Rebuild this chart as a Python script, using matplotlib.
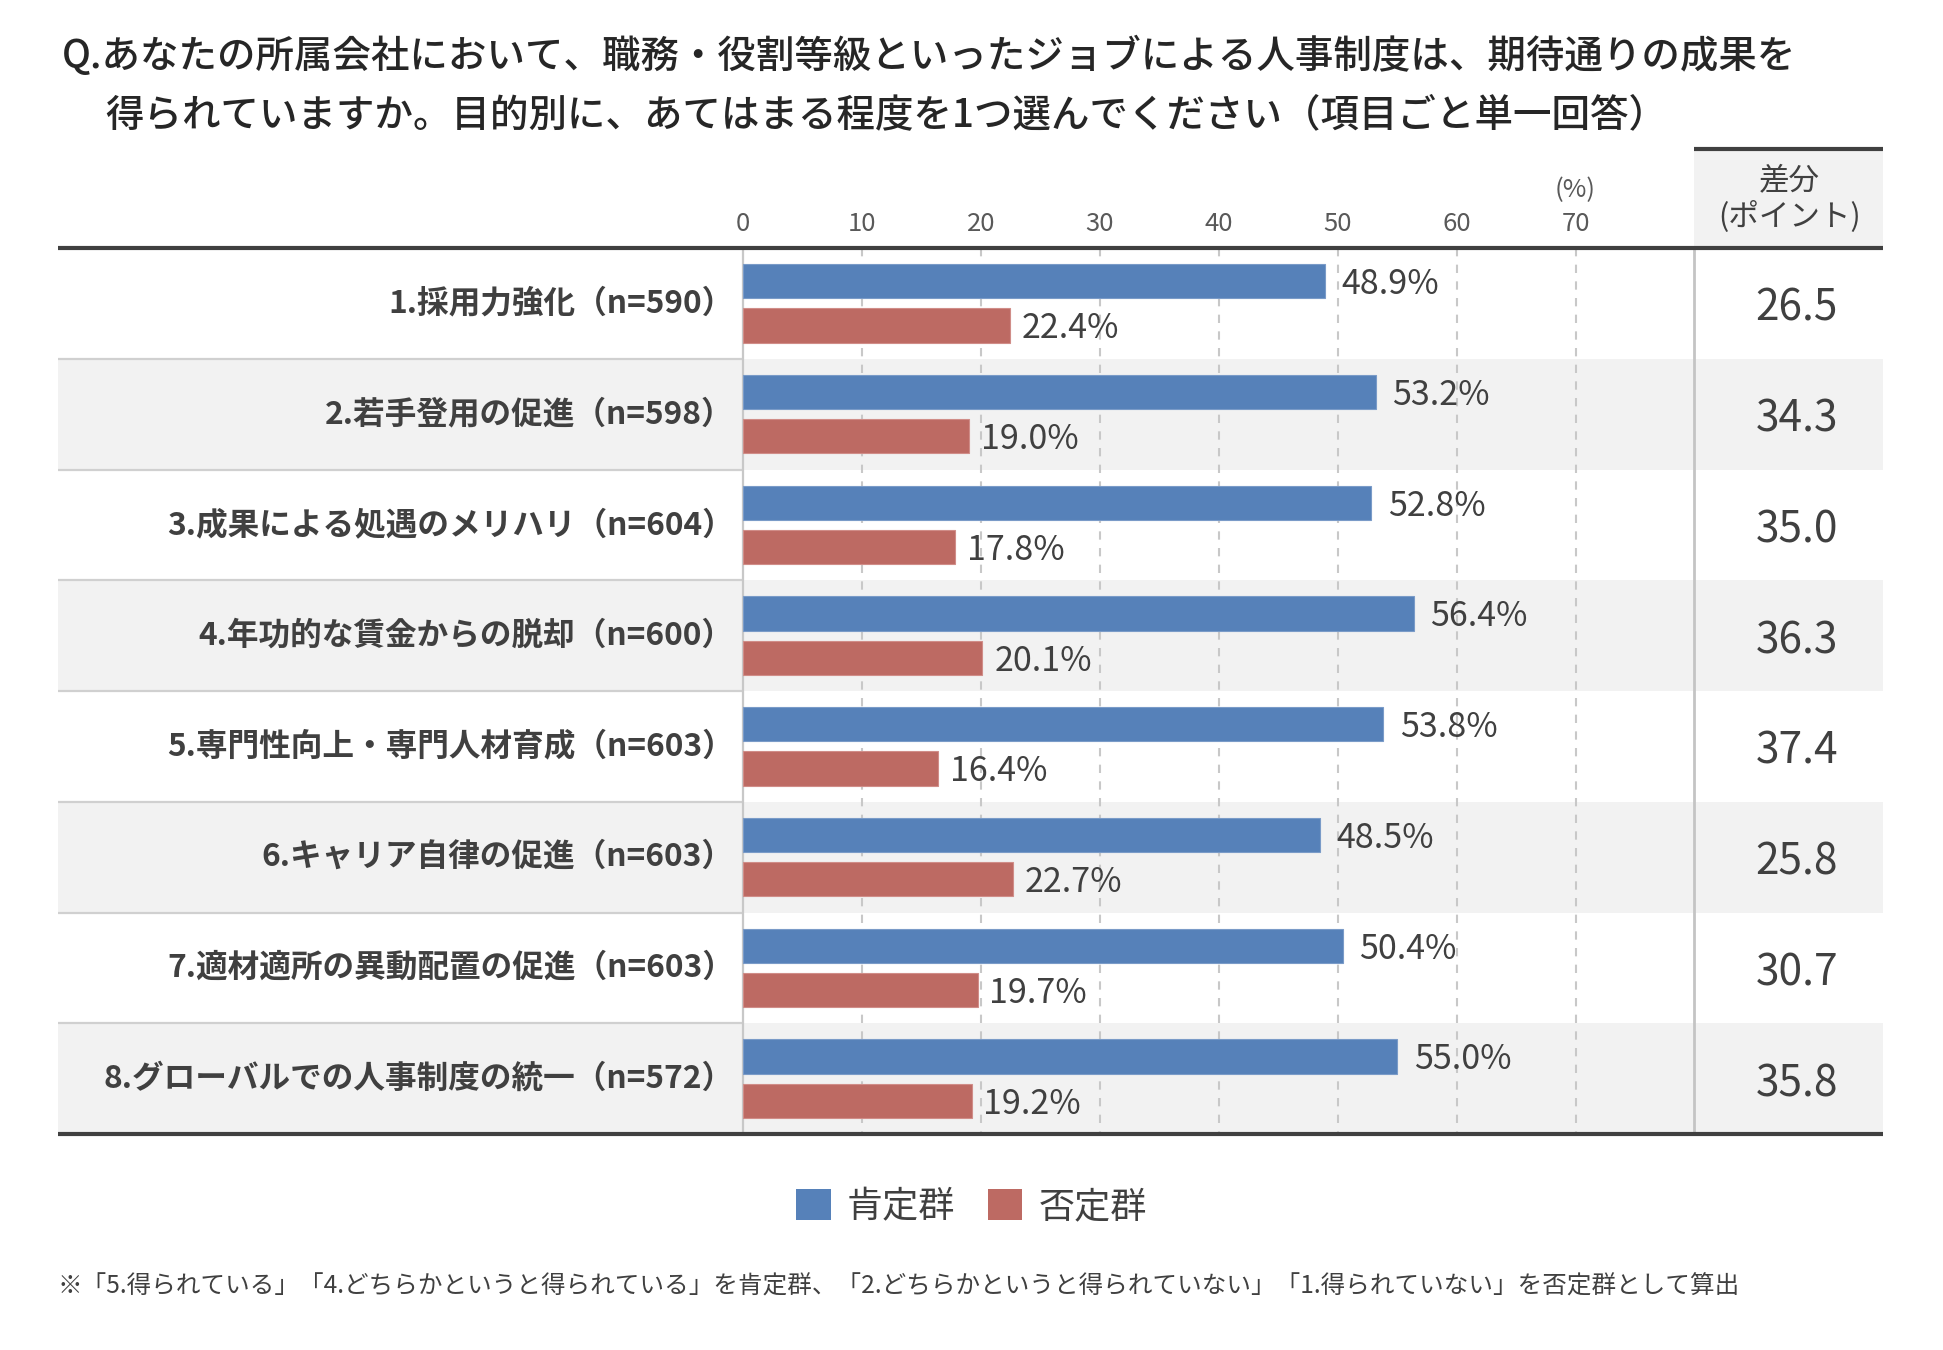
import matplotlib
matplotlib.use("Agg")
import matplotlib.pyplot as plt
from matplotlib.patches import Rectangle, Patch

plt.rcParams['font.family'] = ['Noto Sans CJK JP', 'DejaVu Sans']

categories = [
    "1.採用力強化（n=590）",
    "2.若手登用の促進（n=598）",
    "3.成果による処遇のメリハリ（n=604）",
    "4.年功的な賃金からの脱却（n=600）",
    "5.専門性向上・専門人材育成（n=603）",
    "6.キャリア自律の促進（n=603）",
    "7.適材適所の異動配置の促進（n=603）",
    "8.グローバルでの人事制度の統一（n=572）",
]
positive = [48.9, 53.2, 52.8, 56.4, 53.8, 48.5, 50.4, 55.0]
negative = [22.4, 19.0, 17.8, 20.1, 16.4, 22.7, 19.7, 19.2]
diff = [26.5, 34.3, 35.0, 36.3, 37.4, 25.8, 30.7, 35.8]
xticks = [0, 10, 20, 30, 40, 50, 60, 70]
series_names = ["肯定群", "否定群"]

title1 = "Q.あなたの所属会社において、職務・役割等級といったジョブによる人事制度は、期待通りの成果を"
title2 = "得られていますか。目的別に、あてはまる程度を1つ選んでください（項目ごと単一回答）"
footnote = "※「5.得られている」「4.どちらかというと得られている」を肯定群、「2.どちらかというと得られていない」「1.得られていない」を否定群として算出"

BLUE = "#5681b9"
RED = "#bd6a63"
TXT = "#404040"
GRAYBG = "#f2f2f2"
LINE = "#404040"

W, H = 1943, 1350
fig = plt.figure(figsize=(W / 100, H / 100), dpi=100)

# table region in pixels
left_px, right_px = 58, 1883
top_px, bot_px = 248, 1134
x0_px, ppu = 743.3, 11.89
xmin = (left_px - x0_px) / ppu
xmax = (right_px - x0_px) / ppu
n = len(categories)
row_px = (bot_px - top_px) / n

ax = fig.add_axes([left_px / W, 1 - bot_px / H, (right_px - left_px) / W, (bot_px - top_px) / H])
ax.set_xlim(xmin, xmax)
ax.set_ylim(n - 0.5, -0.5)
for s in ax.spines.values():
    s.set_visible(False)
ax.set_yticks([])

def py(px):
    """pixel y (from top) to data y"""
    return -0.5 + (px - top_px) / row_px

# row backgrounds
for i in range(n):
    if i % 2 == 1:
        ax.add_patch(Rectangle((xmin, i - 0.5), xmax - xmin, 1, facecolor=GRAYBG,
                               edgecolor='none', zorder=0))
# row separators in label area
for i in range(n - 1):
    ax.plot([xmin, 0], [i + 0.5, i + 0.5], color="#d0d0d0", lw=1.6, zorder=1,
            solid_capstyle='butt')

# gridlines
for t in xticks[1:]:
    ax.plot([t, t], [-0.5, n - 0.5], color="#c8c8c8", lw=1.5, ls=(0, (4, 4)), zorder=1)
ax.plot([0, 0], [-0.5, n - 0.5], color="#c8c8c8", lw=1.6, zorder=1)
ax.plot([80, 80], [-0.5, n - 0.5], color="#c4c4c4", lw=2.0, zorder=1)

# bars
ypos = list(range(n))
off = 0.2
bh = 0.31
ax.barh([y - off for y in ypos], positive, height=bh, left=0, color=BLUE,
        edgecolor="#7a9bc8", linewidth=0.8, zorder=3, label=series_names[0])
ax.barh([y + off for y in ypos], negative, height=bh, left=0, color=RED,
        edgecolor="#d08d88", linewidth=0.8, zorder=3, label=series_names[1])

for i in range(n):
    ax.text(positive[i] + 1.4, i - off + 0.03, f"{positive[i]:.1f}%", ha='left', va='center',
            fontsize=24.5, color=TXT, zorder=4)
    ax.text(negative[i] + 1.0, i + off + 0.03, f"{negative[i]:.1f}%", ha='left', va='center',
            fontsize=24.5, color=TXT, zorder=4)
    ax.text(88.6, i + 0.05, f"{diff[i]:.1f}", ha='center', va='center', fontsize=30.5,
            color=TXT)
    ax.text(-0.8, i, categories[i], ha='right', va='center', fontsize=22.8,
            fontweight='bold', color=TXT)

# x ticks on top
ax.xaxis.tick_top()
ax.set_xticks(xticks)
ax.set_xticklabels([str(t) for t in xticks])
ax.tick_params(axis='x', length=0, pad=8, labelsize=18.5, labelcolor="#595959")
ax.text(70, py(190), "(%)", ha='center', va='center', fontsize=18.5, color="#595959",
        clip_on=False)

# header box for diff
hb_top = py(149)
ax.add_patch(Rectangle((80, hb_top), xmax - 80, -0.5 - hb_top, facecolor=GRAYBG,
                       edgecolor='none', clip_on=False, zorder=0))
ax.plot([80, xmax], [hb_top, hb_top], color=LINE, lw=3, clip_on=False,
        solid_capstyle='butt')
ax.text(88.0, py(181), "差分", ha='center', va='center', fontsize=22, color=TXT, clip_on=False)
ax.text(88.0, py(216), "(ポイント)", ha='center', va='center', fontsize=22, color=TXT,
        clip_on=False)

# thick header and bottom lines
ax.plot([xmin, xmax], [-0.5, -0.5], color=LINE, lw=3, clip_on=False, zorder=5,
        solid_capstyle='butt')
ax.plot([xmin, xmax], [n - 0.5, n - 0.5], color=LINE, lw=3, clip_on=False, zorder=5,
        solid_capstyle='butt')

# title
fig.text(62 / W, 1 - 57 / H, title1, ha='left', va='center', fontsize=27.7,
         fontweight='medium', color="#262626")
fig.text(105 / W, 1 - 115 / H, title2, ha='left', va='center', fontsize=27.7,
         fontweight='medium', color="#262626")

# legend
handles = [Patch(facecolor=BLUE, edgecolor='none'), Patch(facecolor=RED, edgecolor='none')]
fig.legend(handles, series_names, loc='center', bbox_to_anchor=(0.5, 1 - 1207 / H),
           ncol=2, frameon=False, fontsize=26, handlelength=0.95, handleheight=0.95,
           handletextpad=0.45, columnspacing=0.9, labelcolor=TXT)

# footnote
fig.text(58 / W, 1 - 1287 / H, footnote, ha='left', va='center', fontsize=17.7, color=TXT)

fig.savefig("out.png", dpi=100, facecolor='white')
